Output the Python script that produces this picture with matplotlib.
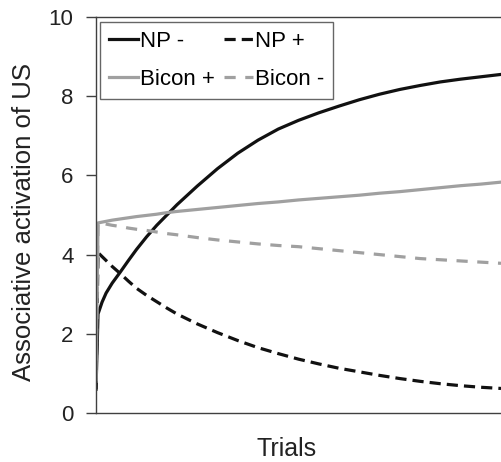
import matplotlib
matplotlib.use("Agg")
import matplotlib.pyplot as plt

plt.rcParams['font.family'] = ['Liberation Sans', 'DejaVu Sans']

trials = [0, 1, 3, 5, 8, 12, 16, 20, 25, 30, 35, 40, 50, 60, 70, 80, 90, 100,
          110, 120, 130, 140, 150, 160, 170, 180, 190, 200]
np_minus = [0.6, 2.50, 2.80, 3.03, 3.28, 3.56, 3.85, 4.13, 4.45, 4.74, 5.00, 5.26,
            5.73, 6.17, 6.56, 6.89, 7.17, 7.39, 7.58, 7.75, 7.91, 8.05, 8.17, 8.27,
            8.36, 8.43, 8.49, 8.55]
np_plus = [0.6, 4.05, 3.95, 3.85, 3.70, 3.52, 3.33, 3.15, 2.97, 2.81, 2.65, 2.50,
           2.25, 2.03, 1.83, 1.65, 1.50, 1.36, 1.24, 1.13, 1.04, 0.95, 0.87, 0.80,
           0.74, 0.69, 0.65, 0.62]
bicon_plus = [0.8, 4.80, 4.82, 4.84, 4.87, 4.90, 4.93, 4.96, 4.99, 5.02, 5.06, 5.09,
              5.14, 5.19, 5.24, 5.29, 5.33, 5.38, 5.42, 5.46, 5.50, 5.55, 5.59, 5.64,
              5.69, 5.74, 5.78, 5.83]
bicon_minus = [0.8, 4.80, 4.79, 4.77, 4.74, 4.71, 4.67, 4.64, 4.61, 4.57, 4.53, 4.50,
               4.43, 4.37, 4.32, 4.27, 4.23, 4.20, 4.15, 4.10, 4.05, 4.00, 3.95, 3.90,
               3.87, 3.84, 3.81, 3.78]

yticks = [0, 2, 4, 6, 8, 10]

fig = plt.figure(figsize=(5.01, 4.62), dpi=100)
ax = fig.add_axes([96/501, 1-413/462, 1-96/501, (413-17)/462])

black = '#111111'
gray = '#a0a0a0'
lw = 2.3
ax.plot(trials, np_minus, color=black, lw=lw, label='NP -')
ax.plot(trials, np_plus, color=black, lw=lw, ls=(0, (3.5, 1.9)), label='NP +')
ax.plot(trials, bicon_plus, color=gray, lw=lw, label='Bicon +')
ax.plot(trials, bicon_minus, color=gray, lw=lw, ls=(0, (3.5, 3.0)), label='Bicon -')

ax.set_xlim(0, 200)
ax.set_ylim(0, 10)
ax.set_yticks(yticks)
ax.set_yticklabels([str(v) for v in yticks], fontsize=16, color='#222222')
ax.set_xticks([])
ax.tick_params(axis='y', direction='out', length=7.2, width=1.0, color='#404040', pad=9)
for s in ['left', 'bottom', 'top']:
    ax.spines[s].set_color('#404040')
    ax.spines[s].set_linewidth(1.0)
ax.spines['right'].set_visible(False)

fig.text(24/501, 1-222/462, 'Associative activation of US', fontsize=18.5, color='#222222',
         rotation=90, ha='center', va='center')
fig.text(287/501, 1-449/462, 'Trials', fontsize=18, color='#222222', ha='center', va='center')

handles, labels = ax.get_legend_handles_labels()
order = [0, 2, 1, 3]
leg = ax.legend([handles[i] for i in order], [labels[i] for i in order], ncol=2,
                loc='upper left', bbox_to_anchor=(4/405, 1-5/396), borderaxespad=0,
                fontsize=16, handlelength=1.3, handletextpad=0.1, columnspacing=0.4,
                labelspacing=0.78, borderpad=0.4, fancybox=False, frameon=True)
leg.get_frame().set_edgecolor('#404040')
leg.get_frame().set_linewidth(1.0)

fig.savefig('out.png', dpi=100)
